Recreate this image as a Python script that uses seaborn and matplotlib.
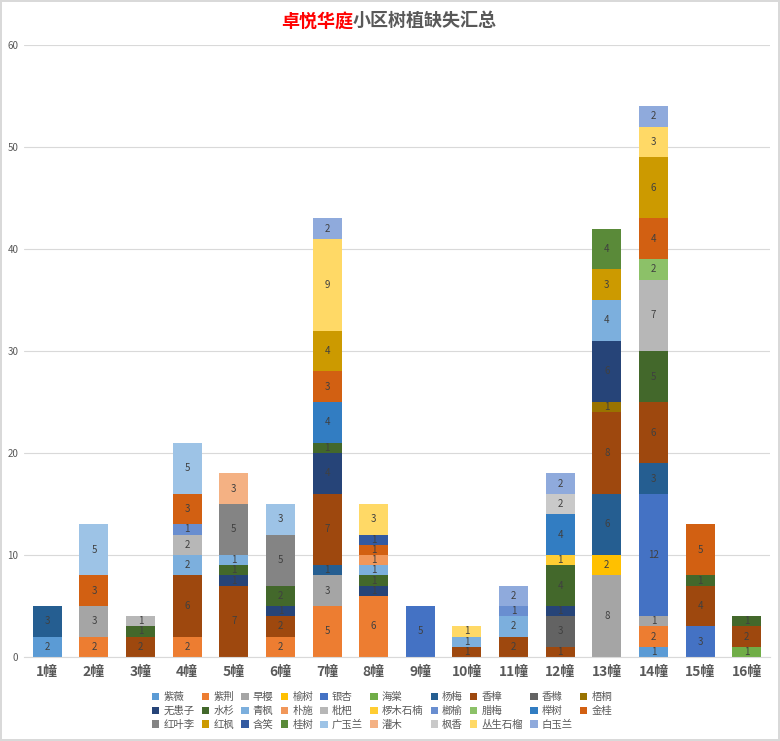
import pandas as pd
import seaborn as sns
import matplotlib.pyplot as plt
from matplotlib.patches import Patch

# tree species, in legend / stacking order (bottom of bar first)
trees = ["紫薇", "紫荆", "早樱", "榆树", "银杏", "海棠", "杨梅", "香樟", "香橼", "梧桐",
         "无患子", "水杉", "青枫", "朴施", "枇杷", "椤木石楠", "榔榆", "腊梅", "榉树", "金桂",
         "红叶李", "红枫", "含笑", "桂树", "广玉兰", "灌木", "枫香", "丛生石榴", "白玉兰"]
tree_colors = ["#5B9BD5", "#ED7D31", "#A5A5A5", "#FFC000", "#4472C4", "#70AD47", "#255E91",
               "#9E480E", "#636363", "#997300", "#264478", "#43682B", "#7CAFDD", "#F1975A",
               "#B7B7B7", "#FFCD33", "#698ED0", "#8CC168", "#327DC2", "#D26012", "#848484",
               "#CC9A00", "#335AA1", "#5A8A39", "#9DC3E6", "#F4B183", "#C9C9C9", "#FFD966",
               "#8FAADC"]

# missing trees per building
bld1 = [("紫薇", 2), ("杨梅", 3)]
bld2 = [("紫荆", 2), ("早樱", 3), ("金桂", 3), ("广玉兰", 5)]
bld3 = [("香樟", 2), ("水杉", 1), ("枇杷", 1)]
bld4 = [("紫荆", 2), ("香樟", 6), ("青枫", 2), ("枇杷", 2), ("榔榆", 1), ("金桂", 3), ("广玉兰", 5)]
bld5 = [("香樟", 7), ("无患子", 1), ("水杉", 1), ("青枫", 1), ("红叶李", 5), ("灌木", 3)]
bld6 = [("紫荆", 2), ("香樟", 2), ("无患子", 1), ("水杉", 2), ("红叶李", 5), ("广玉兰", 3)]
bld7 = [("紫荆", 5), ("早樱", 3), ("杨梅", 1), ("香樟", 7), ("无患子", 4), ("水杉", 1),
        ("榉树", 4), ("金桂", 3), ("红枫", 4), ("丛生石榴", 9), ("白玉兰", 2)]
bld8 = [("紫荆", 6), ("无患子", 1), ("水杉", 1), ("青枫", 1), ("朴施", 1), ("金桂", 1),
        ("含笑", 1), ("丛生石榴", 3)]
bld9 = [("银杏", 5)]
bld10 = [("香樟", 1), ("青枫", 1), ("丛生石榴", 1)]
bld11 = [("香樟", 2), ("青枫", 2), ("榔榆", 1), ("白玉兰", 2)]
bld12 = [("香樟", 1), ("香橼", 3), ("无患子", 1), ("水杉", 4), ("椤木石楠", 1), ("榉树", 4),
         ("枫香", 2), ("白玉兰", 2)]
bld13 = [("早樱", 8), ("榆树", 2), ("杨梅", 6), ("香樟", 8), ("梧桐", 1), ("无患子", 6),
         ("青枫", 4), ("红枫", 3), ("桂树", 4)]
bld14 = [("紫薇", 1), ("紫荆", 2), ("早樱", 1), ("银杏", 12), ("杨梅", 3), ("香樟", 6),
         ("水杉", 5), ("枇杷", 7), ("腊梅", 2), ("金桂", 4), ("红枫", 6), ("丛生石榴", 3),
         ("白玉兰", 2)]
bld15 = [("银杏", 3), ("香樟", 4), ("水杉", 1), ("金桂", 5)]
bld16 = [("海棠", 1), ("香樟", 2), ("水杉", 1)]

buildings = [bld1, bld2, bld3, bld4, bld5, bld6, bld7, bld8,
             bld9, bld10, bld11, bld12, bld13, bld14, bld15, bld16]
building_labels = [f"{i}幢" for i in range(1, 17)]

rows = []
for i, bld in enumerate(buildings, start=1):
    for tree, n in bld:
        rows.append({"building": i, "tree": tree, "count": n})
df = pd.DataFrame(rows)

sns.set_style("white")
plt.rcParams["font.family"] = ["Noto Sans CJK SC", "DejaVu Sans"]

fig = plt.figure(figsize=(7.8, 7.41), dpi=100, edgecolor="#D9D9D9", linewidth=1.5)
ax = fig.add_axes([24 / 780, 1 - 657 / 741, 746 / 780, 612 / 741])

palette = dict(zip(trees, tree_colors))
sns.histplot(data=df, x="building", weights="count", hue="tree", hue_order=trees[::-1],
             palette=palette, multiple="stack", discrete=True, shrink=0.62,
             alpha=1, linewidth=0, edgecolor="none", legend=False, ax=ax)

# value labels in the middle of each segment
for cont in ax.containers:
    for p in cont.patches:
        h = p.get_height()
        if h > 0:
            ax.text(p.get_x() + p.get_width() / 2, p.get_y() + h / 2, f"{int(h)}",
                    ha="center", va="center", fontsize=7, color="#404040")

ax.set_xlim(0.5, 16.5)
ax.set_ylim(0, 60)
ax.set_yticks(range(0, 61, 10))
ax.set_xticks(range(1, 17))
ax.set_xticklabels(building_labels, fontsize=10, fontweight="bold", color="#595959")
ax.tick_params(axis="y", labelsize=7, colors="#595959", length=0, pad=4)
ax.tick_params(axis="x", length=0, pad=6)
ax.set_xlabel("")
ax.set_ylabel("")
ax.grid(axis="y", color="#D9D9D9", linewidth=0.8)
ax.set_axisbelow(True)
for side in ["top", "right", "left"]:
    ax.spines[side].set_visible(False)
ax.spines["bottom"].set_color("#D9D9D9")

# title, two colours
fig.text(0.4526, 0.972, "卓悦华庭", ha="right", va="center", fontsize=13,
         fontweight="bold", color="#FF0000")
fig.text(0.4526, 0.972, "小区树植缺失汇总", ha="left", va="center", fontsize=13,
         fontweight="bold", color="#595959")

# legend: row-major order in 10 columns
handles = [Patch(facecolor=c, edgecolor="none") for c in tree_colors]
order = [r * 10 + c for c in range(10) for r in range(3) if r * 10 + c < len(trees)]
fig.legend([handles[k] for k in order], [trees[k] for k in order],
           loc="center", bbox_to_anchor=(0.49, 1 - 711 / 741), ncol=10, frameon=False,
           fontsize=7.5, labelcolor="#595959", handlelength=0.7, handleheight=0.7,
           handletextpad=0.4, columnspacing=0.7, labelspacing=0.35, borderpad=0)

fig.savefig("out.png", dpi=100)
